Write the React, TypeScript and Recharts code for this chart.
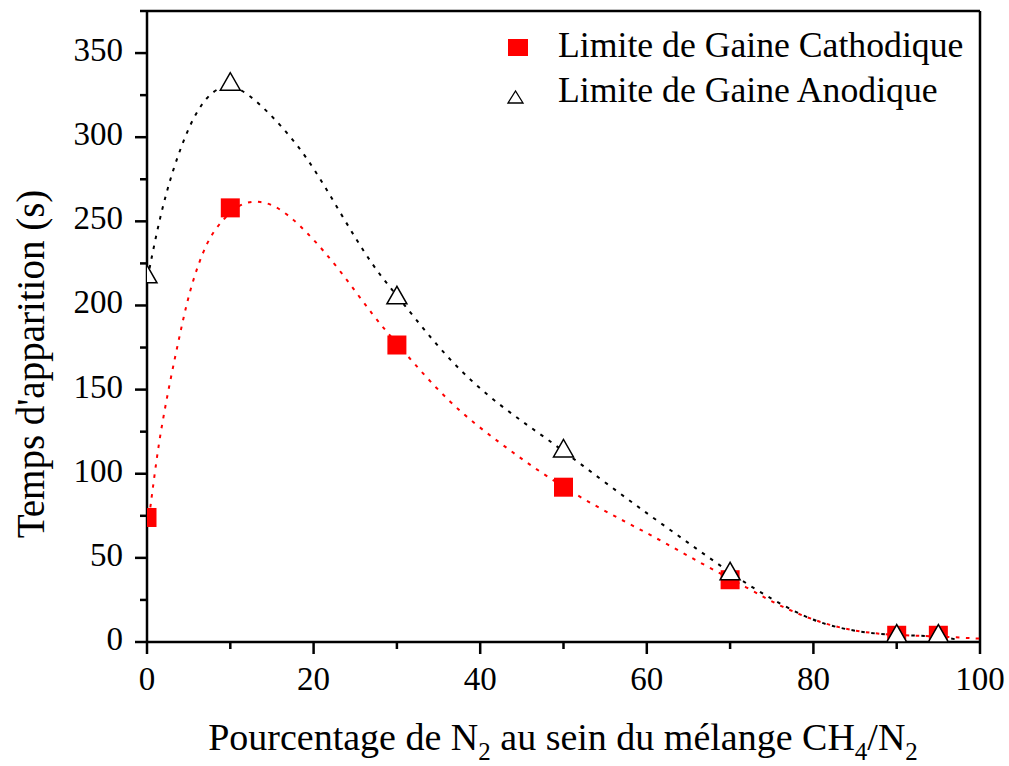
import React from "react";
import {
  ComposedChart,
  Line,
  Scatter,
  XAxis,
  YAxis,
  ReferenceLine,
} from "recharts";

// mesures (pourcentage de N2)
const percents = [0, 10, 30, 50, 70, 90, 95];
const cathodique = [74, 258, 176.5, 92, 37, 4, 4];
const anodique = [218.5, 333, 206, 115, 42, 5, 5];

// courbes d'ajustement
const fitCathX = [0.4, 1, 1.6, 2.8, 4, 5.2, 7.2, 9.1, 11.2, 13.6, 16, 19.2, 23.2, 27.1, 30.4, 36.4, 42.4, 48, 54.4, 60.4, 66.4, 72.2, 76, 82, 88, 94, 100];
const fitCathY = [80, 103, 124, 156, 184, 211, 239, 251, 261, 262.5, 258, 244, 221, 194, 175, 141, 118, 98, 79, 64, 47, 32, 21, 9, 4.2, 3.6, 2];
const fitAnodX = [0.3, 1.56, 3.1, 5.2, 7.2, 8.8, 10, 12, 15.2, 19.2, 23.2, 27.1, 30.4, 36.4, 42.4, 48, 54.4, 60.4, 66.4, 72, 78, 82, 88, 94, 97.6];
const fitAnodY = [222, 253, 281, 309, 324.6, 329.7, 331, 326.6, 312, 289, 255, 223, 203.6, 166, 140, 121, 97, 75, 54, 34, 17, 9, 4, 4, 1.2];

const xTicks = [0, 10, 20, 30, 40, 50, 60, 70, 80, 90, 100];
const yTicks = [0, 25, 50, 75, 100, 125, 150, 175, 200, 225, 250, 275, 300, 325, 350, 375];

const cathPoints = percents.map((x, i) => ({ x, y: cathodique[i] }));
const anodPoints = percents.map((x, i) => ({ x, y: anodique[i] }));
const cathFit = fitCathX.map((x, i) => ({ x, y: fitCathY[i] }));
const anodFit = fitAnodX.map((x, i) => ({ x, y: fitAnodY[i] }));

const FONT = "Liberation Serif";

const YTick = ({ x, y, payload }: any) => {
  const major = payload.value % 50 === 0;
  return (
    <g>
      <line x1={x} x2={x - (major ? 12 : 7)} y1={y} y2={y} stroke="#000" strokeWidth={2.5} />
      {major && (
        <text x={x - 24} y={y} dy={8} textAnchor="end" fontSize={33} fontFamily={FONT} fill="#000">
          {payload.value}
        </text>
      )}
    </g>
  );
};

const XTick = ({ x, y, payload }: any) => {
  const major = payload.value % 20 === 0;
  return (
    <g>
      <line x1={x} x2={x} y1={y} y2={y + (major ? 12 : 7)} stroke="#000" strokeWidth={2.5} />
      {major && (
        <text x={x} y={y} dy={48} textAnchor="middle" fontSize={33} fontFamily={FONT} fill="#000">
          {payload.value}
        </text>
      )}
    </g>
  );
};

const Square = ({ cx, cy }: any) => (
  <rect x={cx - 9.5} y={cy - 9.5} width={19} height={19} fill="#ff0000" />
);

const Triangle = ({ cx, cy }: any) => (
  <polygon
    points={`${cx},${cy - 9} ${cx - 10},${cy + 8.5} ${cx + 10},${cy + 8.5}`}
    fill="#fff"
    stroke="#000"
    strokeWidth={1.5}
  />
);

const XLabel = () => (
  <text x={563} y={750} textAnchor="middle" fontSize={38} fontFamily={FONT} fill="#000">
    Pourcentage de N
    <tspan dy={10} fontSize={25}>2</tspan>
    <tspan dy={-10}> au sein du mélange CH</tspan>
    <tspan dy={10} fontSize={25}>4</tspan>
    <tspan dy={-10}>/N</tspan>
    <tspan dy={10} fontSize={25}>2</tspan>
  </text>
);

const YLabel = () => (
  <text
    x={44}
    y={364}
    transform="rotate(-90, 44, 364)"
    textAnchor="middle"
    fontSize={39}
    fontFamily={FONT}
    fill="#000"
  >
    Temps d'apparition (s)
  </text>
);

export default function App() {
  return (
    <div style={{ position: "absolute", left: 0, top: 0, width: 1009, height: 766, background: "#fff" }}>
      <ComposedChart
        width={1009}
        height={766}
        margin={{ top: 11, right: 29, left: 0, bottom: 0 }}
      >
        <XAxis
          type="number"
          dataKey="x"
          domain={[0, 100]}
          ticks={xTicks}
          interval={0}
          allowDataOverflow
          height={124}
          tickSize={0}
          tickMargin={0}
          tickLine={false}
          tick={<XTick />}
          axisLine={{ stroke: "#000", strokeWidth: 2.5 }}
          label={{ content: () => <XLabel /> }}
        />
        <YAxis
          type="number"
          domain={[0, 375]}
          ticks={yTicks}
          interval={0}
          allowDataOverflow
          width={147}
          tickSize={0}
          tickMargin={0}
          tickLine={false}
          tick={<YTick />}
          axisLine={{ stroke: "#000", strokeWidth: 2.5 }}
          label={{ content: () => <YLabel /> }}
        />
        <ReferenceLine y={375} stroke="#000" strokeWidth={2.5} />
        <ReferenceLine x={100} stroke="#000" strokeWidth={2.5} />
        <Scatter data={cathPoints} dataKey="y" shape={<Square />} isAnimationActive={false} />
        <Scatter data={anodPoints} dataKey="y" shape={<Triangle />} isAnimationActive={false} />
        <Line
          data={cathFit}
          dataKey="y"
          type="basis"
          stroke="#ff0000"
          strokeWidth={2}
          strokeDasharray="3.5 6.5"
          dot={false}
          activeDot={false}
          isAnimationActive={false}
        />
        <Line
          data={anodFit}
          dataKey="y"
          type="basis"
          stroke="#000"
          strokeWidth={2}
          strokeDasharray="3.5 6.5"
          dot={false}
          activeDot={false}
          isAnimationActive={false}
        />
      </ComposedChart>
      <svg
        width={500}
        height={100}
        style={{ position: "absolute", left: 490, top: 20, pointerEvents: "none" }}
      >
        <rect x={18} y={19} width={20} height={17} fill="#ff0000" />
        <text x={68} y={37} fontSize={35.7} fontFamily={FONT} fill="#000">
          Limite de Gaine Cathodique
        </text>
        <polygon points="25.5,71 18,83 33,83" fill="#fff" stroke="#000" strokeWidth={1.3} />
        <text x={68} y={82} fontSize={35.7} fontFamily={FONT} fill="#000">
          Limite de Gaine Anodique
        </text>
      </svg>
    </div>
  );
}
